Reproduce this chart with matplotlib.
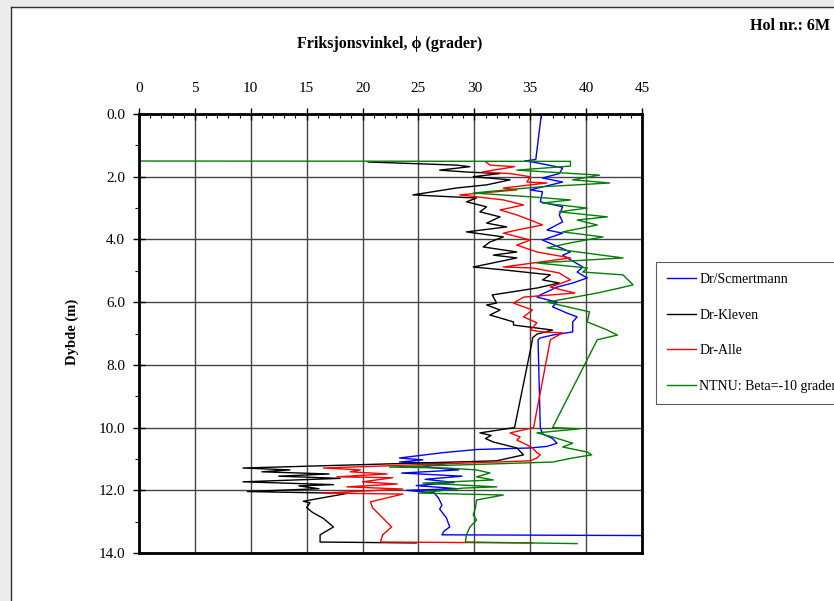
import matplotlib
matplotlib.use("Agg")
import matplotlib.pyplot as plt
from matplotlib.patches import Rectangle
from matplotlib.lines import Line2D

plt.rcParams['font.family'] = ['Liberation Serif', 'DejaVu Serif']

# Dr/Scmertmann (blue)
blue_d = [0.0, 1.45, 1.50, 1.53, 1.72, 1.90, 2.04, 2.17, 2.42, 2.48, 2.80, 2.96, 3.22, 3.44, 3.70,
          3.80, 4.02, 4.40, 4.50, 4.88, 5.04, 5.23, 5.39, 5.52, 5.77, 5.84, 6.00, 6.15, 6.35, 6.47,
          6.63, 6.79, 6.95, 7.05, 7.14, 7.20, 10.00, 10.20, 10.35, 10.50, 10.60, 10.65, 10.70, 10.80,
          10.97, 11.03, 11.10, 11.15, 11.25, 11.35, 11.45, 11.55, 11.65, 11.75, 11.85, 11.95, 12.00,
          12.08, 12.25, 12.47, 12.60, 12.88, 13.17, 13.30, 13.42, 13.45]
blue_p = [36.0, 35.5, 34.5, 35.2, 37.9, 37.6, 36.1, 37.9, 35.0, 36.1, 35.9, 37.9, 37.6, 37.9, 36.5,
          37.9, 36.1, 38.6, 37.9, 39.7, 39.2, 40.1, 38.8, 37.4, 35.9, 35.6, 37.4, 37.0, 38.3, 39.2,
          38.8, 38.8, 38.8, 37.0, 35.9, 35.7, 35.9, 36.1, 37.0, 37.4, 36.5, 35.0, 30.2, 27.2,
          23.3, 25.4, 23.3, 27.5, 25.2, 28.6, 23.5, 28.9, 25.6, 28.2, 24.8, 28.5, 23.9,
          26.4, 26.8, 27.1, 26.9, 27.5, 27.8, 27.3, 27.1, 50.0]

# Dr-Kleven (black)
black_d = [1.53, 1.63, 1.68, 1.79, 1.85, 1.90, 2.00, 2.10, 2.26, 2.36, 2.58, 2.68, 2.80, 2.96, 3.12,
           3.28, 3.48, 3.60, 3.76, 3.92, 4.08, 4.24, 4.40, 4.50, 4.59, 4.88, 4.97, 5.13, 5.29, 5.39,
           5.55, 5.77, 6.03, 6.09, 6.25, 6.41, 6.63, 6.73, 6.89, 7.02, 7.14, 7.20, 10.00, 10.17,
           10.25, 10.35, 10.46, 10.65, 10.87, 11.06, 11.29, 11.35, 11.41, 11.48, 11.55, 11.62,
           11.73, 11.82, 11.86, 11.95, 12.04, 12.10, 12.35, 12.40, 12.55, 12.70, 12.90, 13.17,
           13.42, 13.65, 13.68]
black_p = [20.5, 28.4, 29.6, 26.9, 29.3, 32.3, 29.9, 33.2, 31.1, 28.4, 24.5, 30.2, 29.3, 31.1, 30.5,
           32.3, 31.1, 32.9, 29.3, 32.6, 31.4, 30.8, 33.8, 31.7, 33.8, 29.9, 32.6, 36.8, 36.1, 37.6,
           35.6, 31.6, 32.0, 31.1, 32.3, 31.4, 33.5, 33.5, 37.0, 35.6, 35.2, 35.2, 33.6, 30.5,
           31.5, 31.0, 31.7, 33.8, 34.4, 32.0, 9.3, 13.5, 11.0, 17.0, 12.5, 18.0,
           9.3, 17.4, 14.3, 16.1, 9.7, 18.6, 14.7, 15.3, 15.0, 15.5, 16.5, 17.4,
           16.2, 16.2, 24.8]

# Dr-Alle (red)
red_d = [1.52, 1.63, 1.68, 1.85, 1.90, 2.00, 2.17, 2.20, 2.36, 2.42, 2.58, 2.74, 2.90, 3.06, 3.22,
         3.38, 3.54, 3.70, 3.80, 4.02, 4.18, 4.40, 4.59, 4.88, 4.91, 5.07, 5.29, 5.52, 5.71, 5.84,
         6.03, 6.25, 6.47, 6.66, 6.89, 6.95, 6.98, 7.20, 10.00, 10.17, 10.30, 10.40, 10.55, 10.65,
         10.80, 10.87, 10.97, 11.06, 11.29, 11.35, 11.41, 11.48, 11.57, 11.60, 11.73, 11.80,
         11.89, 11.96, 12.09, 12.12, 12.37, 12.56, 12.88, 13.17, 13.42, 13.65, 13.68]
red_p = [31.0, 31.4, 33.6, 30.7, 33.2, 35.0, 34.7, 36.5, 32.6, 33.8, 28.7, 32.6, 34.4, 32.3, 33.8,
         35.0, 36.1, 33.8, 32.6, 35.0, 33.8, 35.6, 38.6, 32.6, 35.2, 37.6, 38.6, 36.8, 39.0, 34.4,
         33.5, 35.2, 34.4, 35.6, 35.0, 36.1, 37.9, 36.8, 35.3, 33.2, 34.1, 33.8, 34.7, 35.2,
         35.6, 35.9, 35.6, 35.0, 16.5, 19.8, 18.9, 22.2, 17.7, 22.7, 20.0, 23.1,
         18.6, 23.6, 16.5, 23.6, 20.7, 20.9, 21.8, 22.6, 21.8, 21.6, 35.2]

# NTNU: Beta=-10 grader (green)
green_d = [1.50, 1.51, 1.66, 1.79, 1.95, 2.10, 2.20, 2.33, 2.52, 2.64, 2.74, 2.84, 3.00, 3.12, 3.28,
           3.38, 3.54, 3.76, 3.92, 4.11, 4.27, 4.59, 4.75, 4.91, 5.04, 5.13, 5.45, 5.55, 5.71, 6.00,
           6.31, 6.63, 6.89, 6.98, 7.05, 7.20, 10.00, 10.04, 10.17, 10.30, 10.50, 10.62, 10.78,
           10.87, 10.97, 11.10, 11.26, 11.29, 11.35, 11.45, 11.57, 11.67, 11.77, 11.89, 11.93,
           12.09, 12.15, 12.31, 12.56, 12.79, 12.95, 13.17, 13.42, 13.65, 13.70]
green_p = [0.0, 38.6, 38.6, 33.8, 41.2, 38.8, 42.1, 35.6, 29.9, 35.0, 38.6, 36.1, 40.1, 37.6, 41.9,
           39.2, 41.0, 37.9, 41.5, 38.6, 36.5, 43.3, 35.6, 40.1, 39.7, 43.3, 44.2, 43.0, 41.0, 36.5,
           40.3, 40.1, 41.9, 42.4, 42.8, 41.0, 37.0, 39.4, 35.6, 37.0, 38.8, 37.9, 40.1,
           40.5, 38.8, 37.0, 22.4, 27.5, 30.2, 31.4, 30.2, 31.7, 25.4, 32.0, 29.0,
           25.1, 32.6, 30.2, 30.1, 29.9, 30.2, 29.6, 29.3, 29.2, 39.2]

labels = ['Dr/Scmertmann', 'Dr-Kleven', 'Dr-Alle', 'NTNU: Beta=-10 grader']
colors = ['#0000ff', '#000000', '#ff0000', '#007f00']

fig = plt.figure(figsize=(8.34, 6.01), dpi=100)
fig.patch.set_facecolor('white')
# grey page margins like the source screenshot
fig.add_artist(Rectangle((0, 0), 11 / 834, 1, transform=fig.transFigure, color='#ececec', zorder=0))
fig.add_artist(Rectangle((0, 1 - 7 / 601), 1, 7 / 601, transform=fig.transFigure, color='#ececec', zorder=0))
fig.add_artist(Line2D([11 / 834, 11 / 834], [0, 1 - 7 / 601], transform=fig.transFigure, color='#333333', lw=1))
fig.add_artist(Line2D([11 / 834, 1], [1 - 7 / 601, 1 - 7 / 601], transform=fig.transFigure, color='#333333', lw=1))

ax = fig.add_axes([139 / 834, 1 - 553 / 601, 503 / 834, 439 / 601])
for d, p, c, lab in zip([blue_d, black_d, red_d, green_d], [blue_p, black_p, red_p, green_p], colors, labels):
    ax.plot(p, d, color=c, lw=1, label=lab)

ax.set_xlim(0, 45)
ax.set_ylim(14, 0)
ax.xaxis.tick_top()
ax.set_xticks(range(0, 46, 5))
ax.set_xticks(range(0, 46, 1), minor=True)
ax.set_yticks(range(0, 15, 2))
ax.set_yticks(range(0, 15, 1), minor=True)
ax.set_yticklabels([f'{v:.1f}' for v in range(0, 15, 2)])
ax.tick_params(axis='x', which='major', direction='inout', length=8, width=1, labelsize=11, pad=10)
ax.tick_params(axis='x', which='minor', direction='in', length=3, width=0.8)
ax.tick_params(axis='y', which='major', direction='inout', length=8, width=1, labelsize=11, pad=6)
ax.tick_params(axis='y', which='minor', direction='out', length=3, width=0.8)
ax.grid(True, which='major', color='#444444', lw=1)
for s in ax.spines.values():
    s.set_linewidth(2)

fig.text(390 / 834, 1 - 44 / 601, 'Friksjonsvinkel, ϕ (grader)', ha='center', va='center',
         fontsize=11.5, fontweight='bold')
fig.text(750 / 834, 1 - 26 / 601, 'Hol nr.: 6M', ha='left', va='center', fontsize=11.5, fontweight='bold')
fig.text(72 / 834, 1 - 332 / 601, 'Dybde (m)', ha='center', va='center', rotation=90,
         fontsize=10.5, fontweight='bold')

leg = ax.legend(loc='upper left', bbox_to_anchor=(656 / 834, 1 - 262 / 601), bbox_transform=fig.transFigure,
                fontsize=10, frameon=True, fancybox=False, edgecolor='#333333', labelspacing=1.62,
                handlelength=2.1, handletextpad=0.2, borderpad=0.8, borderaxespad=0)
leg.get_frame().set_linewidth(0.8)

fig.savefig('out.png', dpi=100)
